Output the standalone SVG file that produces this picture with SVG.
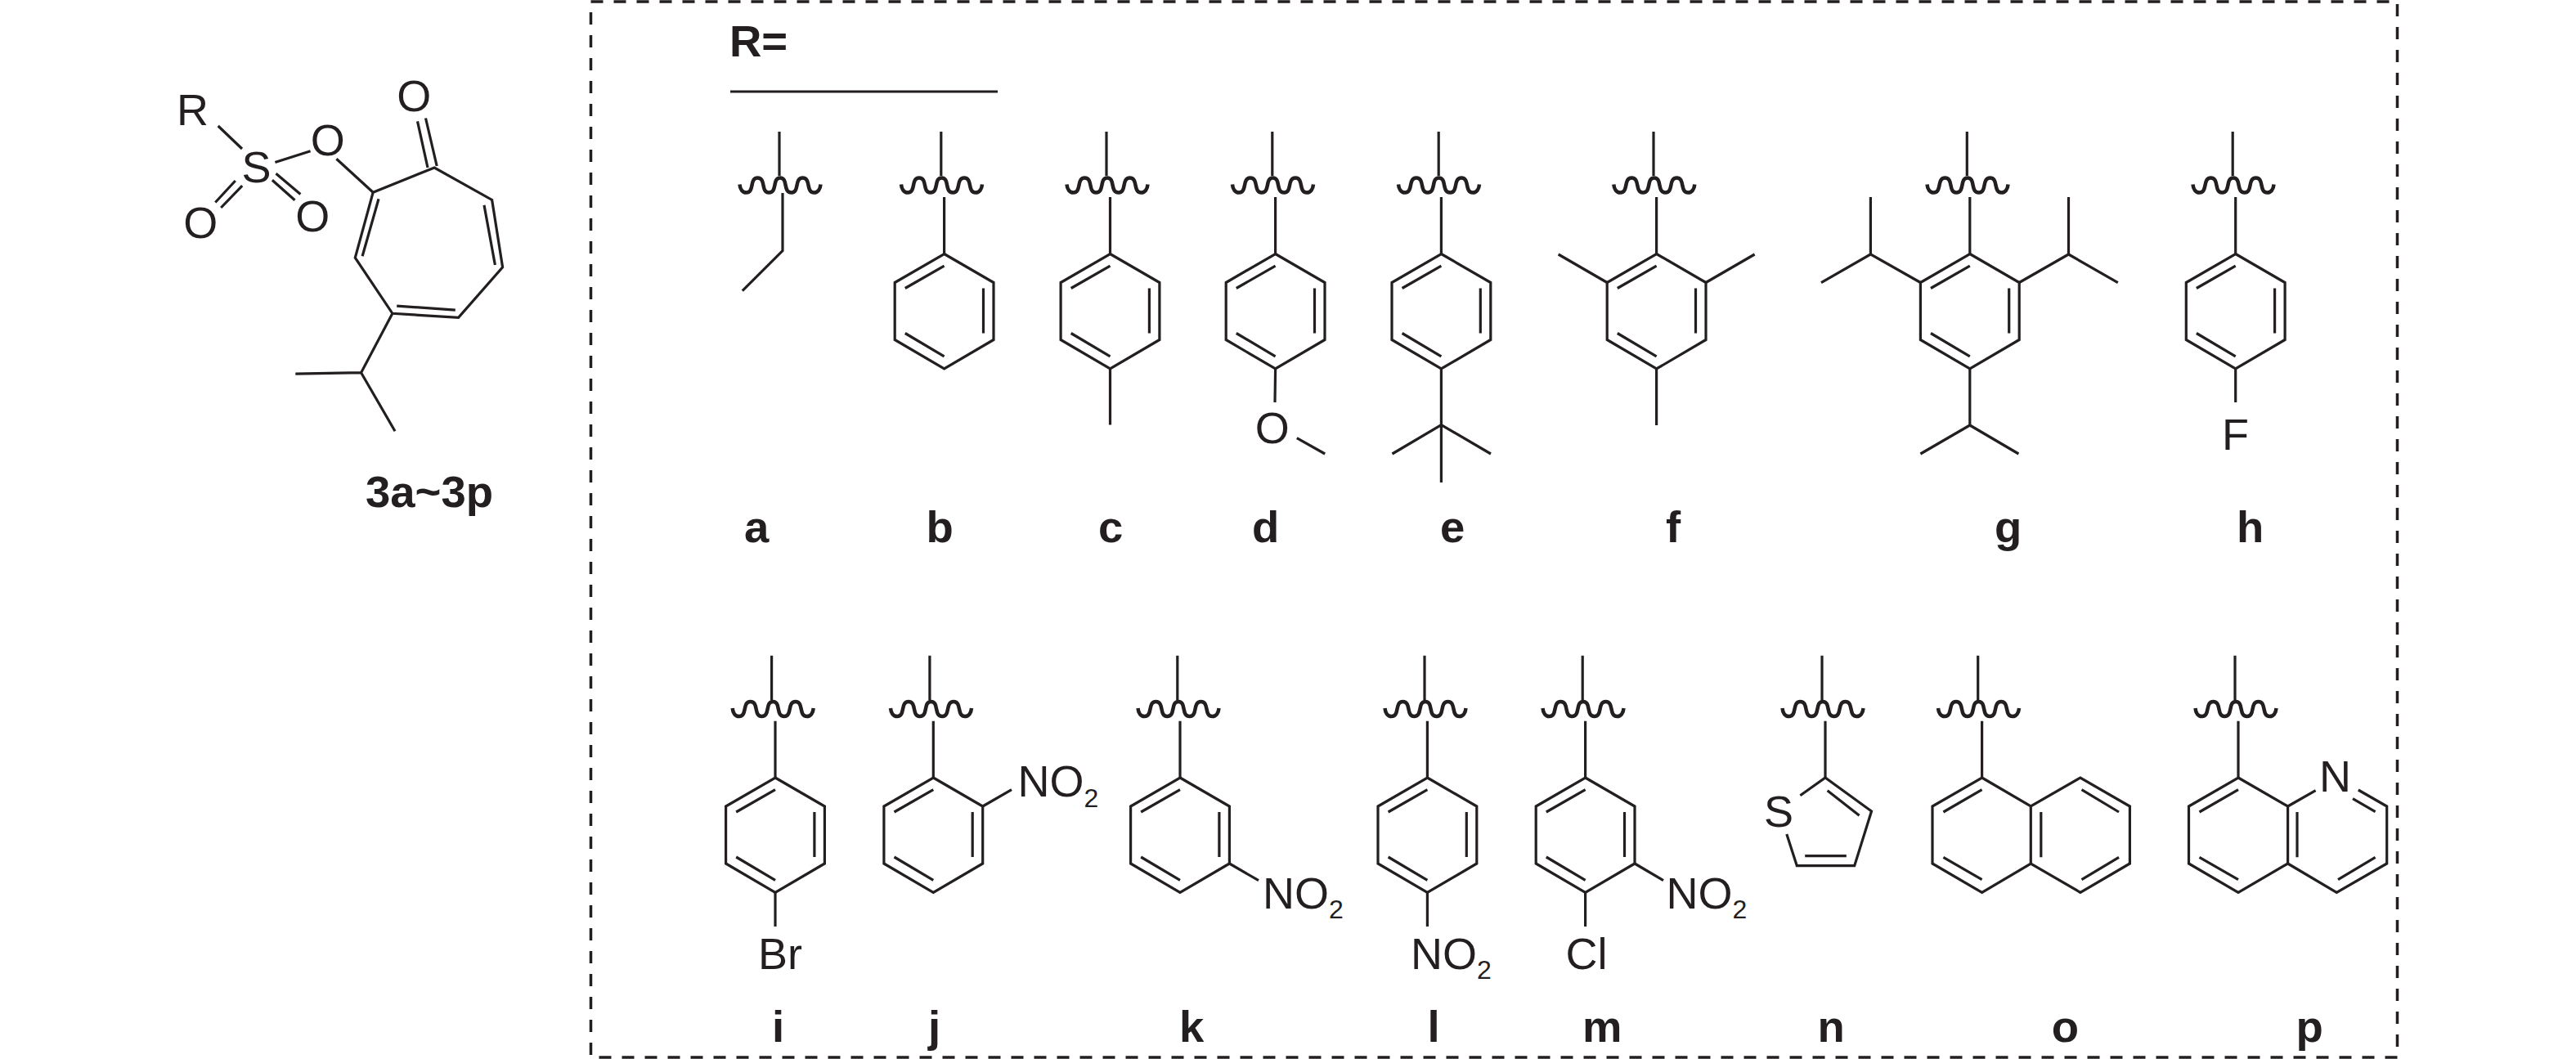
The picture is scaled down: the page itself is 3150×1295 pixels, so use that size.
<svg xmlns="http://www.w3.org/2000/svg" width="3150" height="1295" viewBox="0 0 3150 1295">
<style>
.b{fill:none;stroke:#231f20;stroke-width:3.2;stroke-linecap:butt;stroke-linejoin:miter}
.w{fill:none;stroke:#231f20;stroke-width:4.5}
.a{font-family:"Liberation Sans",Arial,sans-serif;font-size:54px;fill:#231f20}
.m{text-anchor:middle}
.l{font-family:"Liberation Sans",Arial,sans-serif;font-size:54.5px;font-weight:bold;fill:#231f20}
.s{font-size:32px}
</style>
<defs>
<g id="cut">
<path class="w" d="M-49.5,-1C-49,5-46,9-41.4,9C-31,9-38,-9-27.6,-9C-17,-9-24,9-13.8,9C-3,9-10,-9 0,-9C10,-9 3,9 13.8,9C24,9 17,-9 27.6,-9C38,-9 31,9 41.4,9C46,9 49,5 49.5,-1"/>
</g>
<g id="ring">
<path class="b" d="M0,0L60.4,35V105L0,140.5L-60.4,105V35Z"/>
<path class="b" d="M-47.8,42L0,14.7M47.9,42V97M-47.8,97L0,125.3"/>
</g>
</defs>
<rect id="frame" x="722.5" y="2" width="2209" height="1291" fill="none" stroke="#231f20" stroke-width="3.5" stroke-dasharray="15 13"/>
<g id="scaffold">
<path class="b" d="M266.7,154L296,182M336.4,198.5L379.6,184.7M411.4,194.3L456.2,235.2"/>
<path class="b" d="M456.2,235.2L531.2,205L601.6,244.4L614.6,326.7L560.6,388.3L479.9,383.3L434.3,315.2Z"/>
<path class="b" d="M463,243.3L443.1,313.3M592,250.9L605.4,324M485.2,374.1L556.8,379.1"/>
<path class="b" d="M534.2,203L520.5,144.5M523,205L510.5,148.4"/>
<path class="b" d="M479.9,383.3L441.6,455.7L361.3,457.2M441.6,455.7L483,527.2"/>
<path class="b" d="M287.8,221L263.3,247.5M296.2,227.2L270.2,254M337.5,212.3L367.4,237.5M332.9,220.3L360.5,244.8"/>
<text class="a" x="216" y="152.5">R</text>
<text class="a m" x="313.4" y="223">S</text>
<text class="a m" x="400.7" y="190">O</text>
<text class="a m" x="506.3" y="135.5">O</text>
<text class="a m" x="245.3" y="290.5">O</text>
<text class="a m" x="382.3" y="282.5">O</text>
<text class="l" x="447" y="620">3a~3p</text>
</g>
<g id="r-header">
<text class="l" x="892" y="68.5">R=</text>
<path class="b" d="M893,112H1220"/>
</g>
<g id="a">
<path class="b" d="M953,161V215M957,236V306.6L907.8,355.6"/>
<use href="#cut" x="954" y="226.5"/>
<text class="l" x="910" y="662.5">a</text>
</g>
<g id="b">
<path class="b" d="M1150.8,161V215M1154.6,241V310.5"/>
<use href="#cut" x="1151.5" y="226.5"/>
<use href="#ring" x="1154.6" y="310.5"/>
<text class="l" x="1132.5" y="662.5">b</text>
</g>
<g id="c">
<path class="b" d="M1353,161V215M1357.5,241V310.5M1357.5,451V519.5"/>
<use href="#cut" x="1354" y="226.5"/>
<use href="#ring" x="1357.5" y="310.5"/>
<text class="l" x="1343" y="662.5">c</text>
</g>
<g id="d">
<path class="b" d="M1555.8,161V215M1559.6,241V310.5M1559.6,451L1559,492M1585.8,535.6L1620.2,555"/>
<use href="#cut" x="1556.5" y="226.5"/>
<use href="#ring" x="1559.6" y="310.5"/>
<text class="a m" x="1555.8" y="541.5">O</text>
<text class="l" x="1531" y="662.5">d</text>
</g>
<g id="e">
<path class="b" d="M1759.2,161V215M1762.4,241V310.5M1762.4,451V590M1702.5,555L1762.4,519.5L1823,555"/>
<use href="#cut" x="1759.5" y="226.5"/>
<use href="#ring" x="1762.4" y="310.5"/>
<text class="l" x="1761" y="662.5">e</text>
</g>
<g id="f">
<path class="b" d="M2022,161V215M2025.6,241V310.5M2025.6,451V520M1965.2,345.5L1905.6,311M2086,345.5L2145.6,311"/>
<use href="#cut" x="2022.8" y="226.5"/>
<use href="#ring" x="2025.6" y="310.5"/>
<text class="l" x="2037" y="662.5">f</text>
</g>
<g id="g">
<path class="b" d="M2405.3,161V215M2408.8,241V310.5M2408.8,451V520L2348.4,555M2408.8,520L2468.4,555M2348.4,345.5L2287.4,311V241M2287.4,311L2227,345.7M2469.2,345.5L2529.5,311V241M2529.5,311L2589.8,345.7"/>
<use href="#cut" x="2406" y="226.5"/>
<use href="#ring" x="2408.8" y="310.5"/>
<text class="l" x="2439" y="662.5">g</text>
</g>
<g id="h">
<path class="b" d="M2730.2,161V215M2733.7,241V310.5M2733.7,451V492"/>
<use href="#cut" x="2731" y="226.5"/>
<use href="#ring" x="2733.7" y="310.5"/>
<text class="a" x="2717" y="549.5">F</text>
<text class="l" x="2735" y="662.5">h</text>
</g>
<g id="i">
<path class="b" d="M943.6,801.7V856M948,881.7V951M948,1091.5V1133"/>
<use href="#cut" x="945.2" y="867"/>
<use href="#ring" x="948" y="951"/>
<text class="a" x="927" y="1184.5">Br</text>
<text class="l" x="944" y="1274">i</text>
</g>
<g id="j">
<path class="b" d="M1136.9,801.7V856M1141.3,881.7V951M1201.7,986L1237,965.7"/>
<use href="#cut" x="1138.5" y="867"/>
<use href="#ring" x="1141.3" y="951"/>
<text class="a" x="1244.5" y="974">NO<tspan class="s" dy="13">2</tspan></text>
<text class="l" x="1135" y="1274">j</text>
</g>
<g id="k">
<path class="b" d="M1439.8,801.7V856M1443,881.7V951M1503.4,1056L1539,1076.7"/>
<use href="#cut" x="1441" y="867"/>
<use href="#ring" x="1443" y="951"/>
<text class="a" x="1544" y="1111">NO<tspan class="s" dy="12">2</tspan></text>
<text class="l" x="1442" y="1274">k</text>
</g>
<g id="l">
<path class="b" d="M1742,801.7V856M1745.4,881.7V951M1745.4,1091.5V1133"/>
<use href="#cut" x="1743" y="867"/>
<use href="#ring" x="1745.4" y="951"/>
<text class="a" x="1725" y="1184.5">NO<tspan class="s" dy="12">2</tspan></text>
<text class="l" x="1745.5" y="1274">l</text>
</g>
<g id="m">
<path class="b" d="M1935.2,801.7V856M1938.6,881.7V951M1938.6,1091.5V1133M1999,1056L2034,1076.7"/>
<use href="#cut" x="1936" y="867"/>
<use href="#ring" x="1938.6" y="951"/>
<text class="a" x="1914.5" y="1185">Cl</text>
<text class="a" x="2037.5" y="1111">NO<tspan class="s" dy="12">2</tspan></text>
<text class="l" x="1935" y="1274">m</text>
</g>
<g id="n">
<path class="b" d="M2228,801.7V856M2232,881.7V951"/>
<use href="#cut" x="2229" y="867"/>
<path class="b" d="M2201.4,972.7L2232,951L2288.5,992L2267.7,1058.7H2197.3L2184.8,1020"/>
<path class="b" d="M2234.6,966.7L2273.6,997.3M2207.2,1046.7H2257.8"/>
<text class="a" x="2157" y="1010.7">S</text>
<text class="l" x="2222.5" y="1274">n</text>
</g>
<g id="o">
<path class="b" d="M2418.7,801.7V856M2423.6,881.7V951"/>
<use href="#cut" x="2419.5" y="867"/>
<path class="b" d="M2423.6,951L2483.3,986L2543.9,951L2604.4,986V1056L2543.9,1091.3L2483.3,1056L2423.6,1091.3L2363,1056V986ZM2483.3,986V1056"/>
<path class="b" d="M2376.4,993L2423.6,965.7M2376.4,1048.3L2423.6,1075.7M2495.8,993V1048.3M2545.5,965.7L2591,993M2591,1048.3L2545.5,1075.7"/>
<text class="l" x="2508.7" y="1274">o</text>
</g>
<g id="p">
<path class="b" d="M2733,801.7V856M2737,881.7V951"/>
<use href="#cut" x="2734" y="867"/>
<path class="b" d="M2737,951L2797.6,986V1056L2737,1091.3L2676.5,1056V986ZM2797.6,986L2831.6,966.7M2883.8,966L2918.7,986V1056L2857.3,1091.3L2797.6,1056"/>
<path class="b" d="M2689.5,993L2737,965.7M2689.5,1048.3L2737,1075.7M2809,993V1048.3M2877,976.7L2904.6,992.7M2904.6,1048.3L2859,1075.7"/>
<text class="a" x="2836" y="968">N</text>
<text class="l" x="2807.4" y="1274">p</text>
</g>
</svg>
